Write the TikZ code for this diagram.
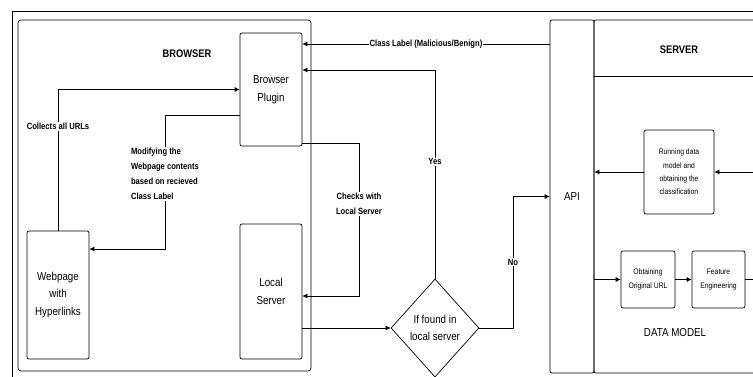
\documentclass[tikz,border=0pt]{standalone}
\usepackage{fontspec}
\setmainfont{Liberation Sans}[FakeStretch=0.85]
\usepackage{tikz}
\usetikzlibrary{shapes.geometric, arrows.meta, positioning, calc}
\tikzset{
  box/.style={
    rectangle, rounded corners=2pt, draw=black, fill=white,
    font=\fontsize{11.5}{17.5}\selectfont, inner sep=2pt, align=center, line width=0.7pt
  },
  smallbox/.style={
    box, font=\fontsize{8}{13.3}\selectfont
  },
  decision/.style={
    diamond, draw=black, fill=white, inner sep=0pt, align=center,
    font=\fontsize{11.5}{17.5}\selectfont, line width=0.7pt
  },
  lbl/.style={font=\bfseries\fontsize{9}{15}\selectfont, fill=white, inner sep=1pt, align=center},
  title/.style={font=\bfseries\fontsize{11}{13}\selectfont},
  arrow/.style={-{Latex[length=5pt,width=5pt]}, line width=0.7pt, draw=black},
  line/.style={line width=0.7pt, draw=black},
}
\begin{document}
\begin{tikzpicture}[x=1pt, y=-1pt]
    \useasboundingbox (0,0) rectangle (753,376);
    \clip (0,0) rectangle (753,376);

    % frames
    \draw[line] (12,380) -- (12,11) -- (760,11);
    \draw[line, rounded corners=3pt] (18,20) rectangle (311,371);
    \node[title] (browser) at (187,54) {BROWSER};

    % browser side
    \node[box, minimum width=62pt, minimum height=113pt] (plugin) at (271,89.5) {Browser\\Plugin};
    \node[box, minimum width=62pt, minimum height=128pt] (web) at (58,295) {Webpage\\with\\Hyperlinks};
    \node[box, minimum width=62pt, minimum height=135pt] (ls) at (271,291.5) {Local\\Server};
    \node[decision, minimum width=88pt, minimum height=98pt] (found) at (435,328) {If found in\\local server};

    % api and server
    \node[box, minimum width=44pt, minimum height=353pt] (api) at (572,196.5) {API};
    \draw[line, rounded corners=2pt] (594,20) rectangle (800,373);
    \draw[line] (594,76) -- (800,76);
    \node[title] (server) at (679,50) {SERVER};
    \node[smallbox, minimum width=70pt, minimum height=84pt] (run) at (679,172) {Running data\\model and\\obtaining the\\classification};
    \node[smallbox, minimum width=54pt, minimum height=57pt] (orig) at (648,279.5) {Obtaining\\Original URL};
    \node[smallbox, minimum width=53pt, minimum height=57pt] (feat) at (718.5,279.5) {Feature\\Engineering};
    \node[font=\fontsize{11.5}{13}\selectfont] (dm) at (675,333) {DATA MODEL};
    \coordinate (runin) at (760,172);
    \coordinate (featout) at (760,279.5);

    % connectors
    \draw[arrow] (web.north) |- node[lbl, pos=0.37] {Collects all URLs} (plugin.west);
    \draw[arrow] ([yshift=-25.5pt]plugin.west) -| (165,249)
      node[lbl, align=left, pos=0.72] {Modifying the\\Webpage contents\\based on recieved\\Class Label}
      -- ([yshift=46pt]web.east);
    \draw[arrow] ([yshift=-53.5pt]plugin.east) -- (359,143) -- node[lbl, pos=0.4] {Checks with\\Local Server} (359,296) -- ([yshift=-4.5pt]ls.east);
    \draw[arrow] ([yshift=-36.5pt]ls.east) -- (found.west);
    \draw[arrow] (found.north) |- node[lbl, pos=0.28] {Yes} ([yshift=19.5pt]plugin.east);
    \draw[arrow] (found.east) -- (513,328) -- node[lbl, pos=0.5] {No} (513,196.5) -- (api.west);
    \draw[arrow] ([yshift=152.5pt]api.west) -- node[lbl, pos=0.5] {Class Label (Malicious/Benign)} ([yshift=45.5pt]plugin.east);
    \draw[arrow] (run.west) -- (api.east |- run.west);
    \draw[arrow] (runin) -- (run.east);
    \draw[arrow] (api.east |- orig.west) -- (orig.west);
    \draw[arrow] (orig) -- (feat);
    \draw[line] (feat.east) -- (featout);
\end{tikzpicture}
\end{document}
